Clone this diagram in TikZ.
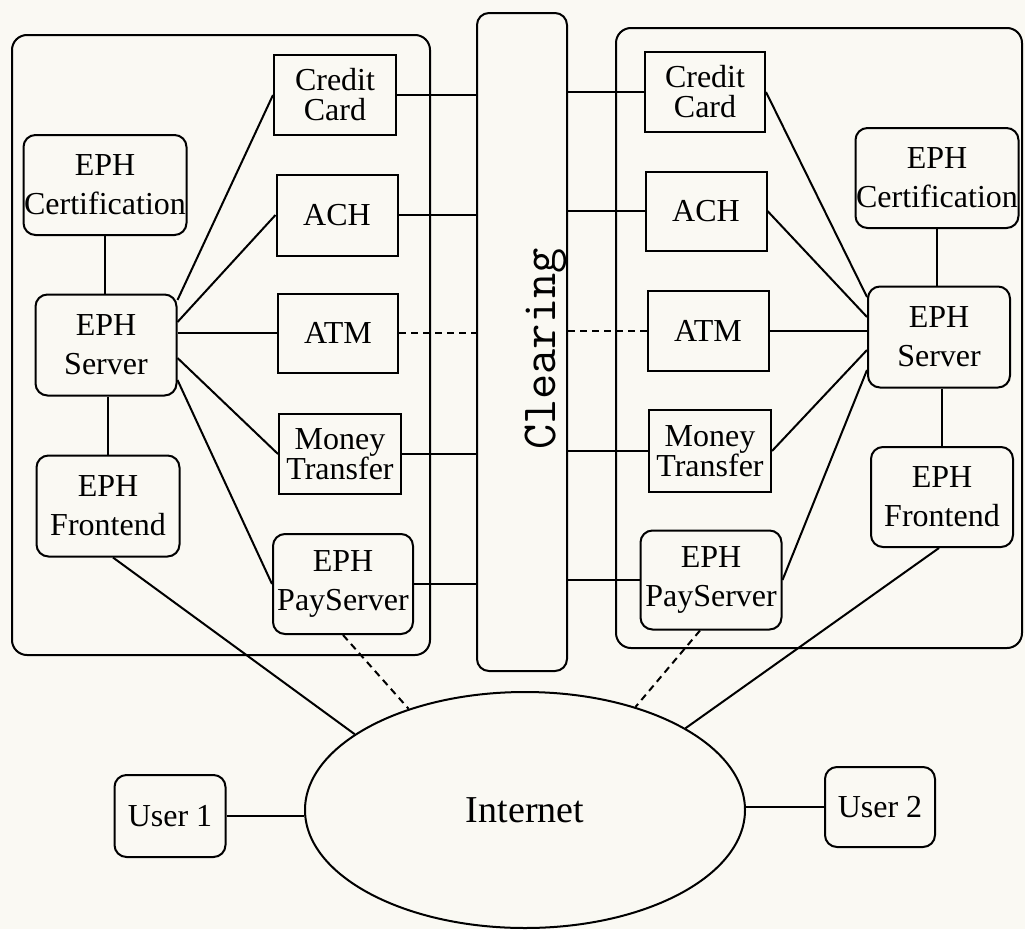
\documentclass[tikz,border=0pt]{standalone}
\usepackage{fontspec}
\usepackage{graphicx}
\setmainfont{Liberation Serif}
\usetikzlibrary{shapes.geometric,calc}
\definecolor{paper}{RGB}{250,249,243}
\begin{document}
\begin{tikzpicture}[x=1pt,y=-1pt, line width=2pt,
  sz/.style 2 args={minimum width=#1pt, minimum height=#2pt},
  box/.style={draw, rectangle, inner sep=0pt, align=center, font=\fontsize{32}{30}\selectfont},
  rbox/.style={box, rounded corners=12pt, font=\fontsize{32}{39}\selectfont},
  frame/.style={draw, rectangle, inner sep=0pt, rounded corners=15pt},
  link/.style={draw},
  dlink/.style={draw, dash pattern=on 7pt off 5pt}]
\fill[paper] (0,0) rectangle (1025,929);
\useasboundingbox (0,0) rectangle (1025,929);

% containers
\node[frame, sz={418}{620}] (lbox) at (221,345) {};
\node[frame, sz={406}{620}] (rbox) at (819,338) {};
\node[frame, rounded corners=12pt, sz={90}{658}] (clear) at (522,342) {};
\node[rotate=90, anchor=base, inner sep=0pt, font=\fontsize{49}{49}\ttfamily] (clabel) at (555,349) {Clearing};

% left side
\node[box, sz={122}{80}] (lcc) at (335,95) {Credit\\Card};
\node[box, sz={121}{81}] (lach) at (337,215) {ACH};
\node[box, sz={120}{79}] (latm) at (338,333) {ATM};
\node[box, sz={122}{80}] (lmt) at (340,454) {Money\\Transfer};
\node[rbox, sz={140}{100}] (lpay) at (343,584) {EPH\\PayServer};
\node[rbox, sz={163}{100}] (lcert) at (105,185) {EPH\\Certification};
\node[rbox, sz={141}{101}] (lserver) at (106,345) {EPH\\Server};
\node[rbox, sz={143}{101}] (lfront) at (108,506) {EPH\\Frontend};

% right side
\node[box, sz={120}{80}] (rcc) at (705,92) {Credit\\Card};
\node[box, sz={121}{79}] (rach) at (706,211) {ACH};
\node[box, sz={121}{80}] (ratm) at (708,331) {ATM};
\node[box, sz={122}{82}] (rmt) at (710,451) {Money\\Transfer};
\node[rbox, sz={141}{99}] (rpay) at (711,580) {EPH\\PayServer};
\node[rbox, sz={163}{100}] (rcert) at (937,178) {EPH\\Certification};
\node[rbox, sz={142}{101}] (rserver) at (939,337) {EPH\\Server};
\node[rbox, sz={142}{100}] (rfront) at (942,497) {EPH\\Frontend};

% internet and users
\node[draw, ellipse, inner sep=0pt, sz={440}{236}, font=\fontsize{38}{40}\selectfont] (inet) at (525,810) {Internet};
\node[rbox, sz={111}{82}] (user1) at (170,816) {User 1};
\node[rbox, sz={110}{80}] (user2) at (880,807) {User 2};

% left server links
\path[link] ([yshift=45pt]lserver.east) -- (lcc.west);
\path[link] ([yshift=23pt]lserver.east) -- (lach.west);
\path[link] (latm.west -| lserver.east) -- (latm.west);
\path[link] ([yshift=-13pt]lserver.east) -- (lmt.west);
\path[link] ([yshift=-35pt]lserver.east) -- (lpay.west);
\path[link] (lcert.south |- lcert.south) -- (lcert.south |- lserver.north);
\path[link] (lfront.north |- lserver.south) -- (lfront.north);

% right server links
\path[link] (rcc.east) -- ([yshift=40pt]rserver.west);
\path[link] (rach.east) -- ([yshift=20pt]rserver.west);
\path[link] (ratm.east) -- (ratm.east -| rserver.west);
\path[link] (rmt.east) -- ([yshift=-13pt]rserver.west);
\path[link] (rpay.east) -- ([yshift=-33pt]rserver.west);
\path[link] (rcert.south |- rcert.south) -- (rcert.south |- rserver.north);
\path[link] (rfront.north |- rserver.south) -- (rfront.north);

% clearing links
\path[link] (lcc.east) -- (lcc.east -| clear.west);
\path[link] (lach.east) -- (lach.east -| clear.west);
\path[dlink] (latm.east) -- (latm.east -| clear.west);
\path[link] (lmt.east) -- (lmt.east -| clear.west);
\path[link] (lpay.east) -- (lpay.east -| clear.west);
\path[link] (rcc.west -| clear.east) -- (rcc.west);
\path[link] (rach.west -| clear.east) -- (rach.west);
\path[dlink] (ratm.west -| clear.east) -- (ratm.west);
\path[link] (rmt.west -| clear.east) -- (rmt.west);
\path[link] (rpay.west -| clear.east) -- (rpay.west);

% internet links
\path[link] ([xshift=5pt]lfront.south) -- (inet.156);
\path[dlink] (lpay.south) -- (inet.139);
\path[dlink] ([xshift=-11pt]rpay.south) -- (inet.43);
\path[link] ([xshift=-3pt]rfront.south) -- (inet.27);
\path[link] (user1.east) -- (user1.east -| inet.west);
\path[link] (inet.east |- user2.west) -- (user2.west);
\end{tikzpicture}
\end{document}
